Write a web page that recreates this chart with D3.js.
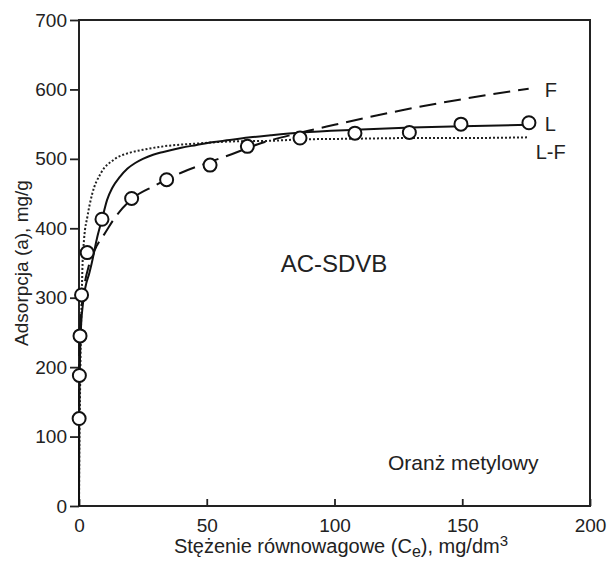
<!DOCTYPE html>
<html><head><meta charset="utf-8">
<script src="https://cdn.jsdelivr.net/npm/d3@7"></script>
<style>body{margin:0;background:#fff}svg{display:block}text{font-family:"Liberation Sans",Arial,sans-serif;fill:#222}</style>
</head><body>
<script>
const xTicks = [0, 50, 100, 150, 200];
const yTicks = [0, 100, 200, 300, 400, 500, 600, 700];
// measured points
const ptC = [0.05, 0.15, 0.4, 1.0, 3.2, 9.0, 20.6, 34.3, 51.3, 65.9, 86.5, 108, 129.3, 149.5, 176.1];
const ptA = [126, 188, 245, 304, 365, 413, 443, 470, 491, 518, 530, 537, 538, 550, 552];
// Freundlich (F)
const fC = [0, 0.01, 0.05, 0.2, 0.5, 1, 2, 4, 7, 10, 14, 20, 30, 40, 50, 60, 70, 87, 100, 125, 150, 176];
const fA = [0, 150, 189, 230, 262, 285, 315, 348, 375, 392, 415, 440, 462, 480, 494, 507, 521, 538, 549, 569, 586, 601];
// Langmuir (L)
const lC = [0, 0.1, 0.3, 0.7, 1.5, 2.5, 4, 5, 7, 9, 11, 13, 16, 19, 22, 25, 29, 33, 40, 46, 52, 59, 67, 75, 87, 108, 130, 150, 176];
const lA = [0, 120, 190, 250, 290, 315, 335, 350, 385, 413, 441, 458, 474, 486, 494, 500, 506, 510, 516, 520, 524, 527, 531, 534, 538, 542, 545, 547, 549];
// Langmuir-Freundlich (L-F)
const lfC = [0, 0.2, 0.4, 0.65, 1.05, 1.4, 2, 3.3, 5.2, 8.5, 13.7, 20, 25, 33, 46, 59, 75, 87, 108, 130, 150, 176];
const lfA = [0, 110, 160, 230, 300, 350, 385, 417, 450, 479, 499, 509, 513, 518, 522, 525, 526, 528, 529, 530, 530, 531];
const seriesLabels = ["F", "L", "L-F"];

const W = 608, H = 563;
const m = {l: 79, r: 590, t: 20, b: 506};
const FONT = '"Liberation Sans",Arial,sans-serif';
const svg = d3.select("body").append("svg").attr("width", W).attr("height", H);
const x = d3.scaleLinear().domain([0, 200]).range([m.l, m.r]);
const y = d3.scaleLinear().domain([0, 700]).range([m.b, m.t]);

// axes
const yAxis = svg.append("g").attr("transform", `translate(${m.l},0)`)
  .call(d3.axisLeft(y).tickValues(yTicks).tickSize(9).tickPadding(3).tickFormat(d3.format("d")));
yAxis.selectAll("text").style("font-size", "19px").style("font-family", FONT);
const xAxis = svg.append("g").attr("transform", `translate(0,${m.b})`)
  .call(d3.axisBottom(x).tickValues(xTicks).tickSizeInner(-7).tickSizeOuter(0).tickPadding(13).tickFormat(d3.format("d")));
xAxis.selectAll("text").style("font-size", "19px").style("font-family", FONT);
svg.selectAll(".domain").remove();
svg.selectAll(".tick line").attr("stroke", "#222").attr("stroke-width", 1.8);
svg.selectAll(".tick text").attr("fill", "#222");

// frame
svg.append("rect").attr("x", m.l).attr("y", m.t).attr("width", m.r - m.l).attr("height", m.b - m.t)
  .attr("fill", "none").attr("stroke", "#222").attr("stroke-width", 2);

const line = d3.line().x(d => x(d[0])).y(d => y(d[1])).curve(d3.curveMonotoneX);
const zip = (a, b) => a.map((v, i) => [v, b[i]]);

svg.append("path").datum(zip(lfC, lfA)).attr("d", line).attr("fill", "none")
  .attr("stroke", "#222").attr("stroke-width", 2).attr("stroke-dasharray", "2,2");
svg.append("path").datum(zip(fC, fA)).attr("d", line).attr("fill", "none")
  .attr("stroke", "#111").attr("stroke-width", 2).attr("stroke-dasharray", "17,8");
svg.append("path").datum(zip(lC, lA)).attr("d", line).attr("fill", "none")
  .attr("stroke", "#111").attr("stroke-width", 2);

svg.append("g").selectAll("circle").data(zip(ptC, ptA)).join("circle")
  .attr("cx", d => x(d[0])).attr("cy", d => y(d[1])).attr("r", 6.5)
  .attr("fill", "#fff").attr("stroke", "#111").attr("stroke-width", 2);

// series labels
svg.append("text").attr("x", x(176) + 16).attr("y", y(601) + 8).text(seriesLabels[0]).style("font-size", "20px");
svg.append("text").attr("x", x(176) + 16).attr("y", y(549) + 6).text(seriesLabels[1]).style("font-size", "20px");
svg.append("text").attr("x", x(176) + 7).attr("y", y(531) + 22).text(seriesLabels[2]).style("font-size", "20px");

svg.append("text").attr("x", 334).attr("y", 272).attr("text-anchor", "middle").style("font-size", "24px").text("AC-SDVB");
svg.append("text").attr("x", 388).attr("y", 470).style("font-size", "21px").text("Oranż metylowy");

// axis titles
const xt = svg.append("text").attr("x", 341).attr("y", 553).attr("text-anchor", "middle").style("font-size", "20px");
xt.append("tspan").text("Stężenie równowagowe (C");
xt.append("tspan").attr("dy", 4).style("font-size", "16px").text("e");
xt.append("tspan").attr("dy", -4).text("), mg/dm");
xt.append("tspan").attr("dy", -7).style("font-size", "15px").text("3");

svg.append("text").attr("transform", `translate(28,${(m.t + m.b) / 2}) rotate(-90)`)
  .attr("text-anchor", "middle").style("font-size", "19px").text("Adsorpcja (a), mg/g");
</script>
</body></html>
